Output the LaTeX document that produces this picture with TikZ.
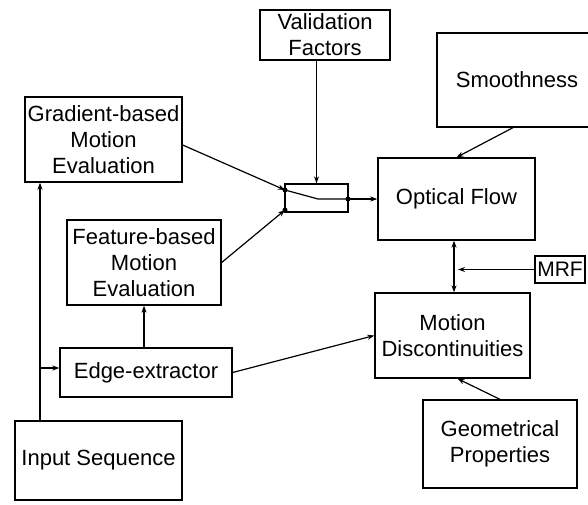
\documentclass[tikz,border=0pt]{standalone}
\usepackage{fontspec}
\setmainfont{Liberation Sans}
\usetikzlibrary{calc,arrows.meta}
\begin{document}
\begin{tikzpicture}[x=1pt,y=-1pt,
  box/.style={draw, line width=1.3pt, inner sep=0pt, align=center,
    font=\fontsize{22}{26}\selectfont},
  conn/.style={line width=1.2pt},
  arr/.style={conn, -{Stealth[length=7pt,width=5pt]}},
  dot/.style={circle, fill, inner sep=0pt, minimum size=5pt}]
\useasboundingbox (0,0) rectangle (588,504);
% boxes
\node[box, minimum width=130pt, minimum height=50pt] (val) at (325,35) {Validation\\Factors};
\node[box, minimum width=157pt, minimum height=85pt] (grad) at (103.5,139.5) {Gradient-based\\Motion\\Evaluation};
\node[box, minimum width=154pt, minimum height=85pt] (feat) at (144,262.5) {Feature-based\\Motion\\Evaluation};
\node[box, minimum width=172pt, minimum height=49pt] (edge) at (146,372.5) {Edge-extractor};
\node[box, minimum width=167pt, minimum height=79pt] (input) at (98.5,460.5) {Input Sequence};
\node[box, minimum width=63pt, minimum height=28pt] (sw) at (316.5,198) {};
\node[box, minimum width=157pt, minimum height=82pt] (of) at (456.5,199) {Optical Flow};
\node[box, minimum width=160pt, minimum height=94pt] (smooth) at (517,80) {Smoothness};
\node[box, minimum width=50pt, minimum height=27pt, inner sep=1pt, font=\fontsize{21}{26}\selectfont] (mrf) at (560,269.5) {MRF};
\node[box, minimum width=155pt, minimum height=85pt] (md) at (452.5,335.5) {Motion\\Discontinuities};
\node[box, minimum width=154pt, minimum height=88pt] (geo) at (500,444) {Geometrical\\Properties};
% switch internals
\coordinate (s1) at (285,190);
\coordinate (s2) at (285,210);
\coordinate (sk) at (318,199);
\coordinate (s3) at (348,199);
\node[dot] at (s1) {};
\node[dot] at (s2) {};
\node[dot] at (s3) {};
\draw[conn] (s1) -- (sk) -- (s3);
% connectors
\draw[arr] (sw.north |- val.south) -- (sw.north);
\draw[arr] (grad.east |- 0,145) -- (s1);
\draw[arr] (feat.east) -- (s2);
\draw[arr] (s3) -- (of.west |- s3);
\coordinate (j) at (40,368);
\draw[arr] (input.north -| j) -- (grad.south -| j);
\draw[arr] (j) -- (edge.west |- j);
\draw[arr] (edge.north -| feat.south) -- (feat.south);
\draw[arr] (edge.east) -- (md.west);
\draw[arr] ($(smooth.south)+(-4,0)$) -- (of.north);
\coordinate (v) at (454,0);
\draw[conn, {Stealth[length=7pt,width=5pt]}-{Stealth[length=7pt,width=5pt]}] (of.south -| v) -- (md.north -| v);
\draw[arr] (mrf.west) -- ($(mrf.west -| v)+(4,0)$);
\draw[arr] (geo.north) -- ($(md.south)+(5,0)$);
\end{tikzpicture}
\end{document}
